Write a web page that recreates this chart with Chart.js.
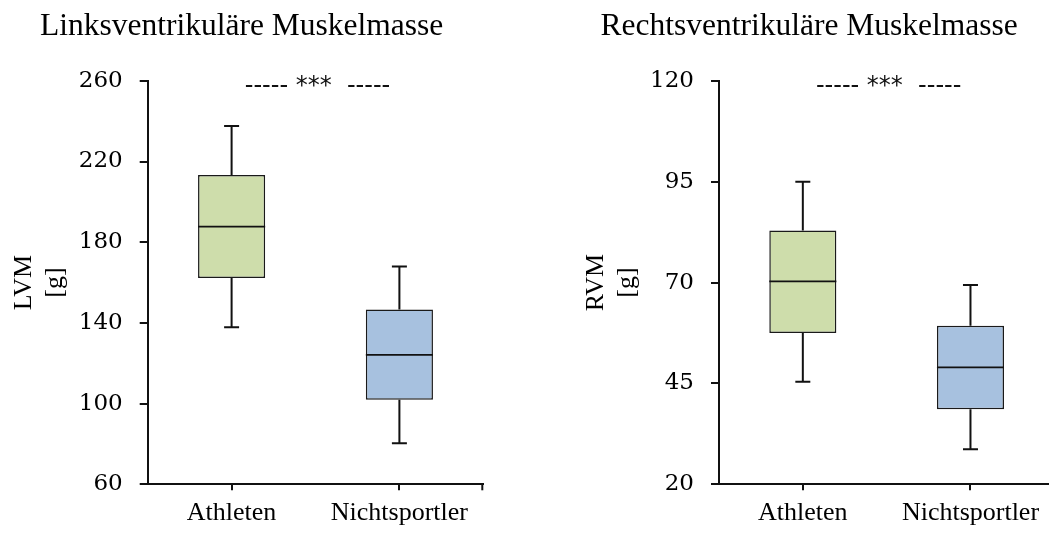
<!DOCTYPE html>
<html lang="de">
<head>
<meta charset="utf-8">
<title>Links- und rechtsventrikuläre Muskelmasse</title>
<script src="https://cdn.jsdelivr.net/npm/chart.js@4.4.1/dist/chart.umd.min.js"></script>
<style>
  html, body { margin: 0; padding: 0; background: #ffffff; overflow: hidden; }
  body { width: 1049px; height: 533px; position: relative; }
  .panel { position: absolute; top: 0; }
  #lvPanel { left: 0px; }
  #rvPanel { left: 564px; }
</style>
</head>
<body>
<div class="panel" id="lvPanel"><canvas id="lvChart" width="490" height="533"></canvas></div>
<div class="panel" id="rvPanel"><canvas id="rvChart" width="497" height="533"></canvas></div>
<script>
// Groups
const categories = ['Athleten', 'Nichtsportler'];

// Left ventricular mass [g]: five-number summary per group
const lvmMin    = [137.8, 80.3];
const lvmQ1     = [162.2, 101.9];
const lvmMedian = [187.7, 124.2];
const lvmQ3     = [213.3, 146.7];
const lvmMax    = [237.6, 168.0];
const lvmTicks  = [60, 100, 140, 180, 220, 260];

// Right ventricular mass [g]: five-number summary per group
const rvmMin    = [45.4, 28.7];
const rvmQ1     = [57.5, 38.6];
const rvmMedian = [70.3, 49.0];
const rvmQ3     = [82.9, 59.3];
const rvmMax    = [95.0, 69.4];
const rvmTicks  = [20, 45, 70, 95, 120];

const significance = '----- ***  -----';
const boxColors = ['#CEDDAB', '#A7C1DF'];

// Draws whiskers, caps, medians and the significance marker on top of the boxes
const boxPlotExtras = {
  id: 'boxPlotExtras',
  afterDatasetsDraw(chart, args, opts) {
    const ctx = chart.ctx;
    const yScale = chart.scales.y;
    const area = chart.chartArea;
    const meta = chart.getDatasetMeta(0);
    ctx.save();
    ctx.strokeStyle = '#111111';
    ctx.lineCap = 'butt';
    meta.data.forEach((bar, i) => {
      const x = bar.x;
      const half = bar.width / 2;
      const capHalf = 7.5;
      const yMin = yScale.getPixelForValue(opts.min[i]);
      const yQ1 = yScale.getPixelForValue(opts.q1[i]);
      const yMed = yScale.getPixelForValue(opts.median[i]);
      const yQ3 = yScale.getPixelForValue(opts.q3[i]);
      const yMax = yScale.getPixelForValue(opts.max[i]);
      ctx.lineWidth = 2;
      ctx.beginPath();
      ctx.moveTo(x, yQ3); ctx.lineTo(x, yMax);
      ctx.moveTo(x - capHalf, yMax); ctx.lineTo(x + capHalf, yMax);
      ctx.moveTo(x, yQ1); ctx.lineTo(x, yMin);
      ctx.moveTo(x - capHalf, yMin); ctx.lineTo(x + capHalf, yMin);
      ctx.stroke();
      ctx.lineWidth = 1.8;
      ctx.beginPath();
      ctx.moveTo(x - half, yMed); ctx.lineTo(x + half, yMed);
      ctx.stroke();
    });
    // closing tick at the right end of the category axis
    ctx.lineWidth = 2;
    ctx.beginPath();
    ctx.moveTo(area.right - 1, area.bottom);
    ctx.lineTo(area.right - 1, area.bottom + 6);
    ctx.stroke();
    // significance marker between the two groups
    const xScale = chart.scales.x;
    const xMid = (xScale.getPixelForValue(0) + xScale.getPixelForValue(1)) / 2;
    ctx.fillStyle = '#111111';
    ctx.font = '24px "DejaVu Sans"';
    ctx.textAlign = 'center';
    ctx.textBaseline = 'alphabetic';
    ctx.fillText(significance, xMid + 2, yScale.getPixelForValue(yScale.max) + 12.5);
    ctx.restore();
  }
};

function makeChart(canvasId, cfg) {
  return new Chart(document.getElementById(canvasId), {
    type: 'bar',
    data: {
      labels: categories,
      datasets: [{
        data: cfg.q1.map((v, i) => [v, cfg.q3[i]]),
        backgroundColor: boxColors,
        borderColor: '#1a1a1a',
        borderWidth: 1.5,
        borderSkipped: false,
        barPercentage: 0.4,
        categoryPercentage: 1.0
      }]
    },
    options: {
      responsive: false,
      animation: false,
      events: [],
      layout: { padding: { left: 0, right: 6.7, top: 0, bottom: 0 } },
      plugins: {
        legend: { display: false },
        tooltip: { enabled: false },
        title: {
          display: true,
          text: cfg.title,
          color: '#000000',
          font: { family: '"Liberation Serif"', size: 31.5, weight: 'normal', lineHeight: 1.2 },
          padding: { top: 8, bottom: 35 }
        },
        boxPlotExtras: {
          min: cfg.min, q1: cfg.q1, median: cfg.median, q3: cfg.q3, max: cfg.max
        }
      },
      scales: {
        x: {
          type: 'category',
          offset: true,
          afterFit: s => { s.height = 48.7; },
          grid: { display: true, drawOnChartArea: false, drawTicks: true, tickLength: 6, offset: false, color: '#111111', lineWidth: 2 },
          border: { display: true, color: '#111111', width: 2 },
          ticks: { color: '#000000', padding: 7, font: { family: '"Liberation Serif"', size: 26 } }
        },
        y: {
          min: cfg.ticks[0],
          max: cfg.ticks[cfg.ticks.length - 1],
          afterFit: s => { s.width = cfg.yWidth; },
          afterBuildTicks: s => { s.ticks = cfg.ticks.map(v => ({ value: v })); },
          grid: { display: true, drawOnChartArea: false, drawTicks: true, tickLength: 8, color: '#111111', lineWidth: 2 },
          border: { display: true, color: '#111111', width: 2 },
          ticks: { color: '#000000', padding: 17, font: { family: '"DejaVu Serif"', size: 23 } },
          title: {
            display: true,
            text: cfg.yTitle,
            color: '#000000',
            font: { family: '"Liberation Serif"', size: 26, lineHeight: 1.2 },
            padding: { top: cfg.yTitlePad, bottom: 0 }
          }
        }
      }
    },
    plugins: [boxPlotExtras]
  });
}

makeChart('lvChart', {
  title: 'Linksventrikuläre Muskelmasse',
  yTitle: ['LVM', '[g]'],
  yWidth: 147.7,
  yTitlePad: 8.6,
  ticks: lvmTicks,
  min: lvmMin, q1: lvmQ1, median: lvmMedian, q3: lvmQ3, max: lvmMax
});

makeChart('rvChart', {
  title: 'Rechtsventrikuläre Muskelmasse',
  yTitle: ['RVM', '[g]'],
  yWidth: 155,
  yTitlePad: 16.6,
  ticks: rvmTicks,
  min: rvmMin, q1: rvmQ1, median: rvmMedian, q3: rvmQ3, max: rvmMax
});
</script>
</body>
</html>
